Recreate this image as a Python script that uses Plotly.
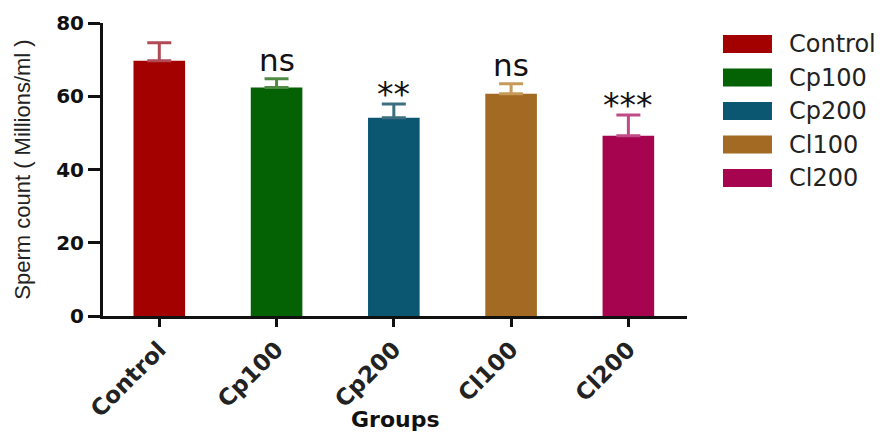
import plotly.graph_objects as go

groups = ["Control", "Cp100", "Cp200", "Cl100", "Cl200"]
means = [69.7, 62.4, 54.1, 60.7, 49.2]
errors = [4.9, 2.4, 3.8, 2.7, 5.7]
signif = ["", "ns", "**", "ns", "***"]
bar_colors = ["#a30000", "#046104", "#0b5670", "#a26a22", "#a6044f"]
err_colors = ["#b04a55", "#4f8a45", "#3d6f80", "#c89a5a", "#c04a85"]

fig = go.Figure()
for g, m, e, c, ec in zip(groups, means, errors, bar_colors, err_colors):
    fig.add_trace(go.Bar(
        x=[g], y=[m], width=0.44, name=g,
        marker=dict(color=c, line=dict(width=0)),
        error_y=dict(type="data", symmetric=False, array=[e], arrayminus=[0],
                     color=ec, thickness=3, width=12),
        showlegend=False,
    ))

annotations = []
for g, m, e, s in zip(groups, means, errors, signif):
    if not s:
        continue
    is_ns = s == "ns"
    annotations.append(dict(
        x=g, y=m + e, xref="x", yref="y", text=s, showarrow=False,
        xanchor="center", yanchor="bottom", yshift=-1 if is_ns else -12,
        font=dict(family="DejaVu Sans", size=31 if is_ns else 33, color="#111111"),
    ))

# custom legend
shapes = []
for i, (g, c) in enumerate(zip(groups, bar_colors)):
    yc = (316 - (44 + 33.5 * i)) / 293
    shapes.append(dict(type="rect", xref="paper", yref="paper",
                       x0=1.0616, x1=1.1455, y0=yc - 0.0307, y1=yc + 0.0307,
                       fillcolor=c, line=dict(width=0)))
    annotations.append(dict(x=1.172, y=yc, xref="paper", yref="paper", text=g,
                            showarrow=False, xanchor="left", yanchor="middle",
                            font=dict(family="DejaVu Sans", size=24, color="#222222")))

annotations.append(dict(x=0.5, y=(316 - 434) / 293, xref="paper", yref="paper",
                        text="Groups", showarrow=False, xanchor="center", yanchor="bottom",
                        font=dict(family="DejaVu Sans", size=22, color="#111111", weight="bold")))

fig.update_layout(
    width=892, height=435,
    margin=dict(l=103, r=205, t=23, b=119),
    paper_bgcolor="white", plot_bgcolor="white",
    barmode="overlay",
    shapes=shapes, annotations=annotations,
    xaxis=dict(
        range=[-0.48, 4.5], showgrid=False, zeroline=False,
        showline=True, linecolor="#111111", linewidth=3,
        ticks="outside", ticklen=8, tickwidth=3, tickcolor="#111111",
        tickangle=-45,
        tickfont=dict(family="DejaVu Sans", size=23, color="#222222", weight="bold"),
    ),
    yaxis=dict(
        range=[0, 80], tickvals=[0, 20, 40, 60, 80], showgrid=False, zeroline=False,
        showline=True, linecolor="#111111", linewidth=3,
        ticks="outside", ticklen=12, tickwidth=3, tickcolor="#111111",
        tickfont=dict(family="DejaVu Sans", size=20, color="#111111", weight="bold"),
        title=dict(text="Sperm count ( Millions/ml )", standoff=20,
                   font=dict(family="Liberation Sans", size=22, color="#222222")),
    ),
)

fig.write_html("out.html", config={"displayModeBar": False},
               post_script="document.body.style.margin='0';")
